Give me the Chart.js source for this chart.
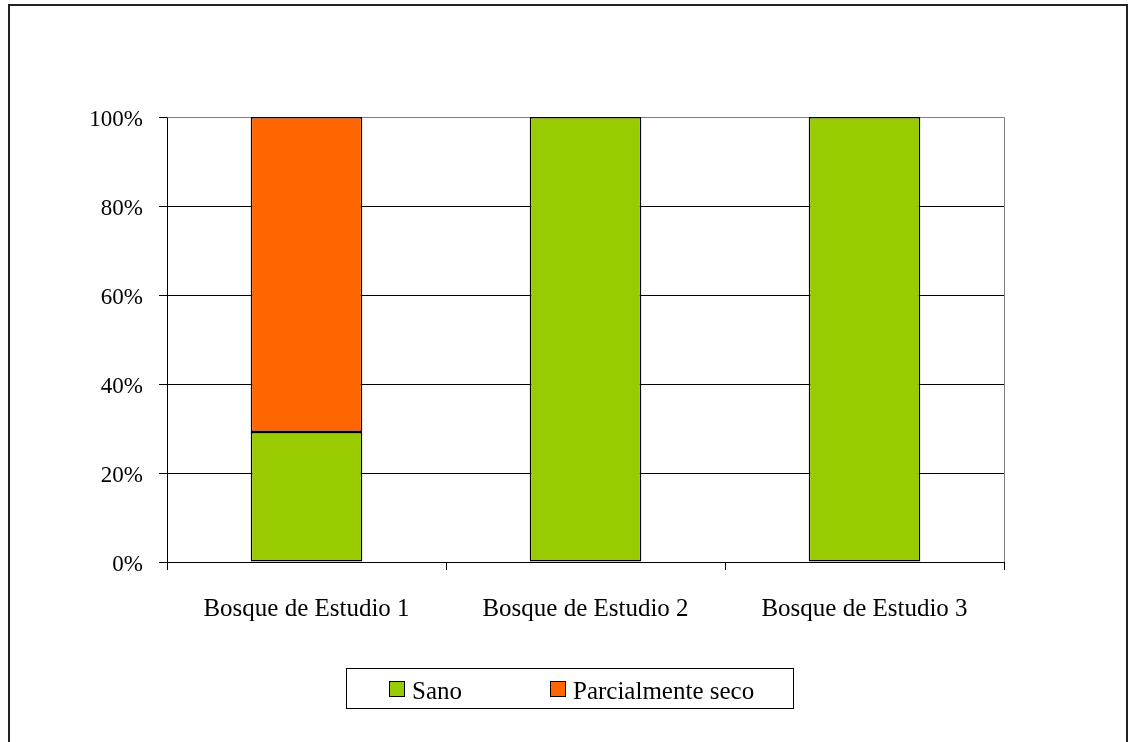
<!DOCTYPE html>
<html>
<head>
<meta charset="utf-8">
<script src="https://cdn.jsdelivr.net/npm/chart.js@4.4.1/dist/chart.umd.min.js"></script>
<style>
  html, body { margin: 0; padding: 0; background: #ffffff; }
  #wrap { width: 1129px; height: 742px; position: relative; }
</style>
</head>
<body>
<div id="wrap"><canvas id="c" width="1129" height="742"></canvas></div>
<script>
const categories = ['Bosque de Estudio 1', 'Bosque de Estudio 2', 'Bosque de Estudio 3'];
const sano = [29.2, 100, 100];
const parcialmenteSeco = [70.8, 0, 0];
const yTicks = [0, 20, 40, 60, 80, 100];

const FONT = '"Liberation Serif", "Times New Roman", serif';

// Outer frame, plot-area border and the boxed legend underneath the chart
const decorations = {
  id: 'decorations',
  beforeDatasetsDraw(chart) {
    const { ctx, chartArea: a } = chart;
    ctx.save();
    ctx.strokeStyle = '#808080';
    ctx.lineWidth = 1;
    ctx.beginPath();
    ctx.moveTo(a.left + 0.5, a.top + 0.5);
    ctx.lineTo(a.right + 0.5, a.top + 0.5);
    ctx.lineTo(a.right + 0.5, a.bottom);
    ctx.stroke();
    ctx.restore();
  },
  afterDraw(chart) {
    const { ctx } = chart;
    ctx.save();
    // outer frame
    ctx.strokeStyle = '#222222';
    ctx.lineWidth = 2;
    ctx.beginPath();
    ctx.moveTo(9, 745);
    ctx.lineTo(9, 5);
    ctx.lineTo(1127, 5);
    ctx.lineTo(1127, 745);
    ctx.stroke();

    // legend box
    ctx.lineWidth = 1;
    ctx.strokeStyle = '#000000';
    ctx.strokeRect(346.5, 668.5, 447, 40);
    const items = chart.data.datasets.map(d => ({ label: d.label, color: d.backgroundColor }));
    const xs = [389, 550];
    ctx.font = '25px ' + FONT;
    ctx.textBaseline = 'alphabetic';
    ctx.textAlign = 'left';
    items.forEach((it, i) => {
      ctx.fillStyle = it.color;
      ctx.fillRect(xs[i] + 0.5, 681.5, 15, 15);
      ctx.strokeStyle = '#000000';
      ctx.strokeRect(xs[i] + 0.5, 681.5, 15, 15);
      ctx.fillStyle = '#000000';
      ctx.fillText(it.label, xs[i] + 23, 699);
    });
    ctx.restore();
  }
};

new Chart(document.getElementById('c'), {
  type: 'bar',
  data: {
    labels: categories,
    datasets: [
      {
        label: 'Sano',
        data: sano,
        backgroundColor: '#99CC00',
        borderColor: '#000000',
        borderWidth: 1.5,
        borderSkipped: false,
        barPercentage: 0.8,
        categoryPercentage: 0.5
      },
      {
        label: 'Parcialmente seco',
        data: parcialmenteSeco,
        backgroundColor: '#FF6600',
        borderColor: '#000000',
        borderWidth: 1.5,
        borderSkipped: false,
        barPercentage: 0.8,
        categoryPercentage: 0.5
      }
    ]
  },
  options: {
    responsive: false,
    animation: false,
    events: [],
    layout: { padding: { left: 0, top: 117, right: 125, bottom: 120 } },
    plugins: {
      legend: { display: false },
      tooltip: { enabled: false },
      title: { display: false }
    },
    scales: {
      x: {
        stacked: true,
        afterFit(scale) { scale.height = 60; },
        grid: {
          offset: true,
          drawOnChartArea: false,
          drawTicks: true,
          tickLength: 8,
          color: '#000000',
          lineWidth: 1
        },
        border: { display: true, color: '#000000', width: 1 },
        ticks: {
          font: { family: FONT, size: 25 },
          color: '#000000',
          padding: 24,
          maxRotation: 0
        }
      },
      y: {
        stacked: true,
        min: 0,
        max: 100,
        afterFit(scale) { scale.width = 167; },
        afterBuildTicks(scale) { scale.ticks = yTicks.map(v => ({ value: v })); },
        grid: {
          color: '#000000',
          lineWidth: 1,
          tickLength: 8
        },
        border: { display: true, color: '#000000', width: 1 },
        ticks: {
          font: { family: FONT, size: 23 },
          color: '#000000',
          padding: 16,
          labelOffset: 3,
          callback: v => v + '%'
        }
      }
    }
  },
  plugins: [decorations]
});
</script>
</body>
</html>
